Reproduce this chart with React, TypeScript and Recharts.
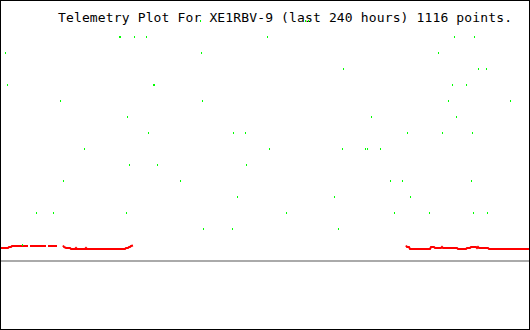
import React from "react";
import { ComposedChart, XAxis, YAxis, Scatter, Line, ReferenceLine } from "recharts";

const TITLE = "Telemetry Plot For XE1RBV-9 (last 240 hours) 1116 points.";

// Green channel: hours (0..240) and discrete level
const greenHours: number[] = [
  90.79, 138.34, 139.70,
  54.11, 54.57, 60.91, 66.34, 121.13, 205.81, 214.87,
  2.49, 91.25, 198.57,
  155.55, 216.68, 220.30,
  3.40, 69.51, 69.96, 204.91, 211.25,
  27.40, 91.70, 203.09, 231.17,
  57.74, 168.23, 206.72,
  67.25, 105.74, 111.17, 184.53, 200.38, 213.96,
  38.26, 122.04, 155.09, 165.51, 166.42, 172.30,
  58.64, 71.32, 111.62,
  28.75, 81.74, 176.83, 182.26, 213.51,
  107.55, 151.47, 185.89,
  16.53, 24.23, 57.28, 129.74, 178.64, 194.49, 214.42, 220.75,
  92.15, 105.28, 153.28,
  10.19,
];
const greenLevels: number[] = [
  15, 15, 15,
  14, 14, 14, 14, 14, 14, 14,
  13, 13, 13,
  12, 12, 12,
  11, 11, 11, 11, 11,
  10, 10, 10, 10,
  9, 9, 9,
  8, 8, 8, 8, 8, 8,
  7, 7, 7, 7, 7, 7,
  6, 6, 6,
  5, 5, 5, 5, 5,
  4, 4, 4,
  3, 3, 3, 3, 3, 3, 3, 3,
  2, 2, 2,
  1,
];

// Red channel: hours and values (null = no data)
const redHours: number[] = [
  0, 3.62, 4.08, 4.98, 5.43, 12.68, 13.1, 13.58, 20.83, 21.3, 21.74, 25.81, 27.0,
  28.53, 28.98, 29.89, 31.70, 32.15, 33.96, 34.42, 34.87, 38.49, 38.94, 39.40,
  56.60, 57.06, 57.96, 58.42, 58.87, 59.32, 60.23, 120.0,
  183.85, 184.30, 185.21, 185.66, 194.72, 195.17, 196.53, 196.98, 199.70, 200.15,
  200.60, 206.94, 207.40, 211.02, 211.47, 212.83, 213.28, 215.55, 216.00, 216.45,
  216.91, 220.98, 221.43, 240,
];
const redValues: (number | null)[] = [
  0.813, 0.813, 0.875, 0.875, 0.938, 0.938, null, 0.938, 0.938, null, 0.938, 0.938, null,
  0.969, 0.875, 0.813, 0.813, 0.75, 0.75, 0.813, 0.75, 0.75, 0.813, 0.75,
  0.75, 0.813, 0.813, 0.875, 0.875, 0.938, 0.969, null,
  0.969, 0.875, 0.875, 0.75, 0.75, 0.875, 0.875, 0.813, 0.813, 0.875,
  0.813, 0.813, 0.75, 0.75, 0.813, 0.813, 0.875, 0.875, 0.813, 0.875,
  0.813, 0.813, 0.75, 0.75,
];

const greenData = greenHours.map((h, i) => ({ h, v: greenLevels[i] }));
const redData = redHours.map((h, i) => ({ h, v: redValues[i] }));

const GreenDot = (props: any) => {
  const { cx, cy } = props;
  if (cx == null || cy == null) return null;
  return <rect x={cx - 0.5} y={cy - 1} width={1} height={2} fill="#00ff00" />;
};

export default function App() {
  return (
    <div
      style={{
        position: "fixed",
        left: 0,
        top: 0,
        width: 530,
        height: 330,
        background: "#ffffff",
      }}
    >
      <svg width={530} height={330} style={{ position: "absolute", left: 0, top: 0 }}>
        <text
          x={58}
          y={22}
          fontFamily="'DejaVu Sans Mono', monospace"
          fontSize={13}
          textLength={454}
          lengthAdjust="spacing"
          fill="#000000"
        >
          {TITLE}
        </text>
      </svg>
      <div style={{ position: "absolute", left: 0, top: 0 }}>
        <ComposedChart
          width={530}
          height={330}
          margin={{ top: 5, right: 0, bottom: 69, left: 0 }}
        >
          <XAxis
            type="number"
            dataKey="h"
            domain={[0, 240]}
            allowDataOverflow
            hide
          />
          <YAxis type="number" domain={[0, 16]} allowDataOverflow hide />
          <ReferenceLine y={0} stroke="#aaaaaa" strokeWidth={2} />
          <Line
            data={redData}
            dataKey="v"
            type="linear"
            stroke="#ff0000"
            strokeWidth={2}
            dot={false}
            activeDot={false}
            connectNulls={false}
            isAnimationActive={false}
          />
          <Scatter
            data={greenData}
            dataKey="v"
            shape={GreenDot}
            isAnimationActive={false}
          />
        </ComposedChart>
      </div>
      <div
        style={{
          position: "absolute",
          left: 0,
          top: 0,
          width: 530,
          height: 330,
          border: "1px solid #000000",
          boxSizing: "border-box",
          pointerEvents: "none",
        }}
      />
    </div>
  );
}
